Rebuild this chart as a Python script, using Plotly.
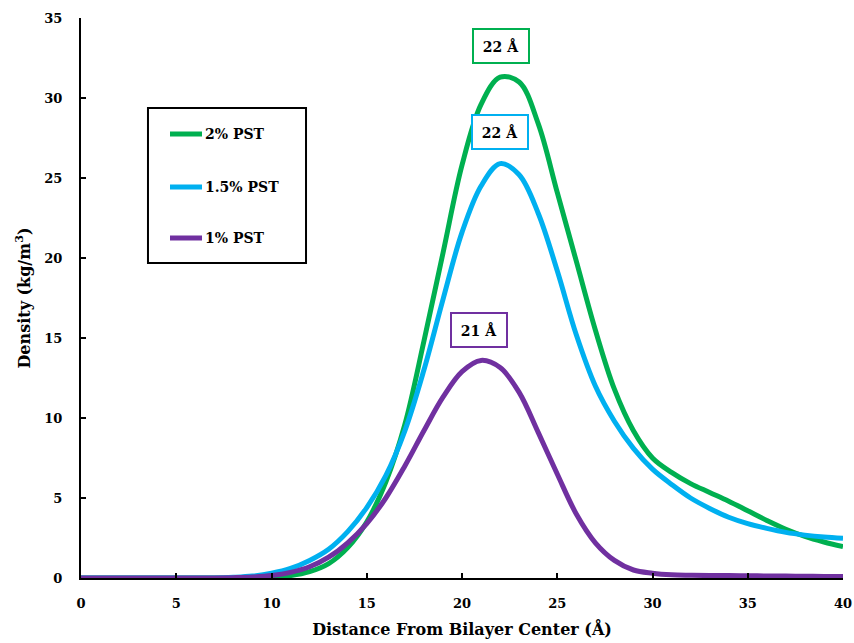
import plotly.graph_objects as go

# Distance from bilayer centre (Å)
distance = list(range(0, 41))

# Density profiles (kg/m^3)
pst_2 = [0, 0, 0, 0, 0, 0, 0, 0, 0, 0,
         0.05, 0.15, 0.4, 0.9, 1.9, 3.5, 6.0, 9.6, 14.8, 20.3,
         25.8, 29.6, 31.3, 31.0, 28.4, 24.1, 19.8, 15.5, 11.8, 9.2,
         7.5, 6.6, 5.9, 5.35, 4.8, 4.2, 3.6, 3.05, 2.6, 2.25, 1.96]
pst_15 = [0, 0, 0, 0, 0, 0, 0, 0, 0.04, 0.12,
          0.3, 0.6, 1.1, 1.8, 2.9, 4.4, 6.4, 9.2, 13.0, 17.4,
          21.6, 24.5, 25.9, 25.2, 22.8, 19.2, 15.2, 12.0, 9.8, 8.1,
          6.8, 5.85, 5.0, 4.35, 3.8, 3.4, 3.1, 2.85, 2.68, 2.56, 2.48]
pst_1 = [0, 0, 0, 0, 0, 0, 0, 0, 0.02, 0.06,
         0.15, 0.35, 0.7, 1.3, 2.2, 3.4, 5.0, 7.0, 9.2, 11.3,
         12.9, 13.6, 13.15, 11.6, 9.1, 6.5, 4.0, 2.2, 1.1, 0.5,
         0.3, 0.2, 0.17, 0.15, 0.15, 0.14, 0.13, 0.12, 0.11, 0.1, 0.1]

series_names = ["2% PST", "1.5% PST", "1% PST"]
series_values = [pst_2, pst_15, pst_1]
series_colors = ["#00B050", "#00B0F0", "#7030A0"]

# Peak position labels
peak_labels = ["22 Å", "22 Å", "21 Å"]
peak_label_x = [22.05, 22.0, 20.9]
peak_label_y = [33.25, 27.9, 15.5]

FONT = "DejaVu Serif"

fig = go.Figure()
for name, vals, col in zip(series_names, series_values, series_colors):
    fig.add_trace(go.Scatter(
        x=distance, y=vals, name=name, mode="lines",
        line=dict(color=col, width=5, shape="spline", smoothing=1),
        showlegend=False,
    ))

# Peak annotations in bordered boxes
for txt, lx, ly, col in zip(peak_labels, peak_label_x, peak_label_y, series_colors):
    fig.add_annotation(
        x=lx, y=ly, xref="x", yref="y", text="<b>%s</b>" % txt,
        showarrow=False, font=dict(family=FONT, size=14, color="black"),
        bordercolor=col, borderwidth=2, borderpad=2, bgcolor="white",
        width=50, height=28,
    )

# Boxed legend drawn in paper coordinates
fig.add_shape(type="rect", xref="paper", yref="paper",
              x0=0.0879, x1=0.2953, y0=0.5625, y1=0.8393,
              line=dict(color="black", width=2), fillcolor="white", layer="below")
legend_y = [0.7929, 0.6982, 0.6071]
for name, col, ly in zip(series_names, series_colors, legend_y):
    fig.add_shape(type="line", xref="paper", yref="paper",
                  x0=0.1168, x1=0.1588, y0=ly, y1=ly,
                  line=dict(color=col, width=5))
    fig.add_annotation(x=0.1601, y=ly, xref="paper", yref="paper",
                       text="<b>%s</b>" % name, showarrow=False,
                       xanchor="left", yanchor="middle",
                       font=dict(family=FONT, size=14, color="black"))

fig.update_layout(
    width=854, height=643,
    margin=dict(l=81, r=11, t=18, b=65),
    paper_bgcolor="white", plot_bgcolor="white",
    font=dict(family=FONT, color="black"),
    xaxis=dict(
        range=[0, 40], tickvals=list(range(0, 41, 5)),
        automargin=False,
        showgrid=False, zeroline=False,
        showline=True, linecolor="black", linewidth=2,
        ticks="inside", ticklen=5, tickwidth=2, tickcolor="black",
        tickfont=dict(family=FONT, size=13, color="black", weight="bold"),
        ticklabelstandoff=12,
        title=dict(text="<b>Distance From Bilayer Center (Å)</b>",
                   font=dict(family=FONT, size=16, color="black"), standoff=14),
    ),
    yaxis=dict(
        range=[0, 35], tickvals=list(range(0, 36, 5)),
        automargin=False,
        showgrid=False, zeroline=False,
        showline=True, linecolor="black", linewidth=2,
        ticks="inside", ticklen=5, tickwidth=2, tickcolor="black",
        tickfont=dict(family=FONT, size=13, color="black", weight="bold"),
        ticklabelstandoff=14,
        title=dict(text="<b>Density (kg/m<sup>3</sup>)</b>",
                   font=dict(family=FONT, size=16, color="black"), standoff=10),
    ),
)

fig.write_html("out.html")
